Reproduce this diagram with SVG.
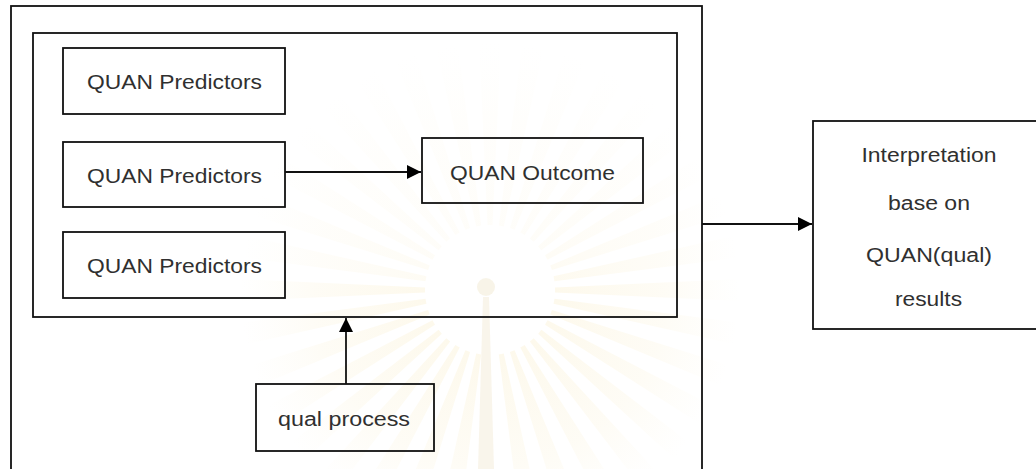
<svg xmlns="http://www.w3.org/2000/svg" xmlns:xlink="http://www.w3.org/1999/xlink" width="1036" height="469" viewBox="0 0 1036 469">
  <style>
    .box { fill: none; stroke: #111; stroke-width: 1.8; }
    .lbl { font-family: "Liberation Sans", Arial, sans-serif; font-size: 20px; fill: #303030; text-anchor: middle; }
    .conn { stroke: #111; stroke-width: 1.8; fill: none; marker-end: url(#arrow); }
  </style>
  <defs>
    <marker id="arrow" markerUnits="userSpaceOnUse" markerWidth="14" markerHeight="14" refX="14" refY="7" orient="auto">
      <path d="M0,0 L14,7 L0,14 z" fill="#000"/>
    </marker>
    <radialGradient id="rayg" gradientUnits="userSpaceOnUse" cx="490" cy="290" r="250">
      <stop offset="0.25" stop-color="#f6e3a8" stop-opacity="0.22"/>
      <stop offset="0.7" stop-color="#f7e8b8" stop-opacity="0.14"/>
      <stop offset="1" stop-color="#f8ecc4" stop-opacity="0"/>
    </radialGradient>
    <polygon id="ray" points="555,287.5 740,279 740,301 555,292.5" fill="url(#rayg)"/>
  </defs>

  <rect width="1036" height="469" fill="#fff"/>

  <g id="watermark">
    <use xlink:href="#ray" transform="rotate(0 490 290)"/>
    <use xlink:href="#ray" transform="rotate(10 490 290)"/>
    <use xlink:href="#ray" transform="rotate(20 490 290)"/>
    <use xlink:href="#ray" transform="rotate(30 490 290)"/>
    <use xlink:href="#ray" transform="rotate(40 490 290)"/>
    <use xlink:href="#ray" transform="rotate(50 490 290)"/>
    <use xlink:href="#ray" transform="rotate(60 490 290)"/>
    <use xlink:href="#ray" transform="rotate(70 490 290)"/>
    <use xlink:href="#ray" transform="rotate(80 490 290)"/>
    <use xlink:href="#ray" transform="rotate(100 490 290)"/>
    <use xlink:href="#ray" transform="rotate(110 490 290)"/>
    <use xlink:href="#ray" transform="rotate(120 490 290)"/>
    <use xlink:href="#ray" transform="rotate(130 490 290)"/>
    <use xlink:href="#ray" transform="rotate(140 490 290)"/>
    <use xlink:href="#ray" transform="rotate(150 490 290)"/>
    <use xlink:href="#ray" transform="rotate(160 490 290)"/>
    <use xlink:href="#ray" transform="rotate(170 490 290)"/>
    <use xlink:href="#ray" transform="rotate(180 490 290)"/>
    <use xlink:href="#ray" transform="rotate(190 490 290)" opacity="0.6"/>
    <use xlink:href="#ray" transform="rotate(200 490 290)" opacity="0.5"/>
    <use xlink:href="#ray" transform="rotate(210 490 290)" opacity="0.4"/>
    <use xlink:href="#ray" transform="rotate(220 490 290)" opacity="0.35"/>
    <use xlink:href="#ray" transform="rotate(230 490 290)" opacity="0.3"/>
    <use xlink:href="#ray" transform="rotate(240 490 290)" opacity="0.3"/>
    <use xlink:href="#ray" transform="rotate(250 490 290)" opacity="0.3"/>
    <use xlink:href="#ray" transform="rotate(260 490 290)" opacity="0.3"/>
    <use xlink:href="#ray" transform="rotate(270 490 290)" opacity="0.3"/>
    <use xlink:href="#ray" transform="rotate(280 490 290)" opacity="0.3"/>
    <use xlink:href="#ray" transform="rotate(290 490 290)" opacity="0.3"/>
    <use xlink:href="#ray" transform="rotate(300 490 290)" opacity="0.3"/>
    <use xlink:href="#ray" transform="rotate(310 490 290)" opacity="0.35"/>
    <use xlink:href="#ray" transform="rotate(320 490 290)" opacity="0.4"/>
    <use xlink:href="#ray" transform="rotate(330 490 290)" opacity="0.5"/>
    <use xlink:href="#ray" transform="rotate(340 490 290)" opacity="0.6"/>
    <use xlink:href="#ray" transform="rotate(350 490 290)" opacity="0.8"/>
    <circle cx="486" cy="287" r="9" fill="#efe6cc" opacity="0.45"/>
    <polygon points="483,297 489,297 494,469 478,469" fill="#efe6cc" opacity="0.4"/>
  </g>

  <g id="outer-frame">
    <rect class="box" x="11" y="6" width="691" height="500"/>
  </g>
  <g id="quan-frame">
    <rect class="box" x="33" y="33" width="644" height="284"/>
  </g>

  <g id="predictors-1">
    <rect class="box" x="63" y="48" width="222" height="66"/>
    <text class="lbl" x="174.5" y="89" textLength="175" lengthAdjust="spacingAndGlyphs">QUAN Predictors</text>
  </g>
  <g id="predictors-2">
    <rect class="box" x="63" y="142" width="222" height="65"/>
    <text class="lbl" x="174.5" y="182.5" textLength="175" lengthAdjust="spacingAndGlyphs">QUAN Predictors</text>
  </g>
  <g id="predictors-3">
    <rect class="box" x="63" y="232" width="222" height="66"/>
    <text class="lbl" x="174.5" y="272.5" textLength="175" lengthAdjust="spacingAndGlyphs">QUAN Predictors</text>
  </g>
  <g id="outcome">
    <rect class="box" x="422" y="138" width="221" height="65"/>
    <text class="lbl" x="532.5" y="180" textLength="165" lengthAdjust="spacingAndGlyphs">QUAN Outcome</text>
  </g>
  <g id="qual-process">
    <rect class="box" x="256" y="384" width="178" height="67"/>
    <text class="lbl" x="344" y="425.5" textLength="132" lengthAdjust="spacingAndGlyphs">qual process</text>
  </g>
  <g id="interpretation">
    <rect class="box" x="813" y="121" width="240" height="208"/>
    <text class="lbl" x="929" y="162" textLength="135" lengthAdjust="spacingAndGlyphs">Interpretation</text>
    <text class="lbl" x="929" y="210" textLength="82" lengthAdjust="spacingAndGlyphs">base on</text>
    <text class="lbl" x="929" y="261.5" textLength="126" lengthAdjust="spacingAndGlyphs">QUAN(qual)</text>
    <text class="lbl" x="928.5" y="305.5" textLength="67" lengthAdjust="spacingAndGlyphs">results</text>
  </g>

  <g id="connectors">
    <line class="conn" x1="285" y1="172" x2="421" y2="172"/>
    <line class="conn" x1="346" y1="384" x2="346" y2="318"/>
    <line class="conn" x1="702" y1="224" x2="812" y2="224"/>
  </g>
</svg>
